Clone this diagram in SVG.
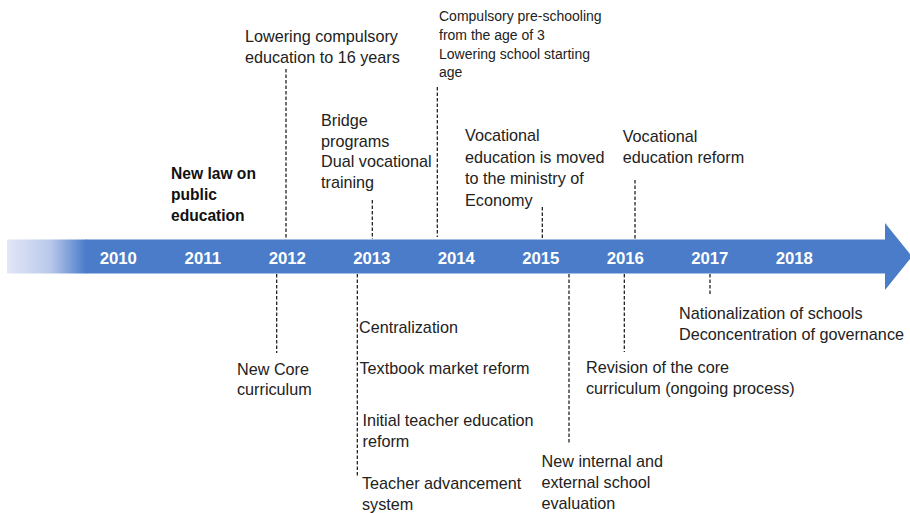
<svg xmlns="http://www.w3.org/2000/svg" width="910" height="513" viewBox="0 0 910 513">
<style>
  .t { font-family: "Liberation Sans", Arial, sans-serif; font-size: 16.2px; fill: #222; }
  .s { font-family: "Liberation Sans", Arial, sans-serif; font-size: 14px; fill: #222; }
  .b { font-family: "Liberation Sans", Arial, sans-serif; font-size: 15.6px; font-weight: bold; fill: #111; }
  .y { font-family: "Liberation Sans", Arial, sans-serif; font-size: 16.8px; font-weight: bold; fill: #fff; text-anchor: middle; }
  .d { stroke: #111; stroke-width: 1.2; stroke-dasharray: 3.5 2; fill: none; }
</style>
<defs>
  <linearGradient id="fade" x1="7" y1="0" x2="86" y2="0" gradientUnits="userSpaceOnUse">
    <stop offset="0" stop-color="#e2e7f6"/>
    <stop offset="0.55" stop-color="#b9c8ea"/>
    <stop offset="1" stop-color="#4a7cc9"/>
  </linearGradient>
</defs>
<rect width="910" height="513" fill="#fff"/>
<g id="timeline">
  <rect x="7" y="239.5" width="80" height="34" fill="url(#fade)"/>
  <polygon points="86,239.5 885,239.5 885,223 912,256.5 885,290 885,273.5 86,273.5" fill="#4a7cc9"/>
  <text class="y" x="118.3" y="263.5">2010</text>
  <text class="y" x="202.8" y="263.5">2011</text>
  <text class="y" x="287.3" y="263.5">2012</text>
  <text class="y" x="371.8" y="263.5">2013</text>
  <text class="y" x="456.3" y="263.5">2014</text>
  <text class="y" x="540.8" y="263.5">2015</text>
  <text class="y" x="625.3" y="263.5">2016</text>
  <text class="y" x="709.8" y="263.5">2017</text>
  <text class="y" x="794.3" y="263.5">2018</text>
</g>
<g id="connectors">
  <line class="d" x1="286" y1="69" x2="286" y2="239"/>
  <line class="d" x1="372.3" y1="200" x2="372.3" y2="239"/>
  <line class="d" x1="437.3" y1="87" x2="437.3" y2="237"/>
  <line class="d" x1="542.3" y1="207" x2="542.3" y2="239"/>
  <line class="d" x1="635" y1="180" x2="635" y2="239"/>
  <line class="d" x1="276.7" y1="274" x2="276.7" y2="353"/>
  <line class="d" x1="357.3" y1="274" x2="357.3" y2="477"/>
  <line class="d" x1="569" y1="274" x2="569" y2="443"/>
  <line class="d" x1="624.3" y1="274" x2="624.3" y2="352"/>
  <line class="d" x1="710" y1="274" x2="710" y2="296"/>
</g>
<g id="n2011-law">
  <text class="b" x="171" y="178.5">New law on</text>
  <text class="b" x="171" y="199.5">public</text>
  <text class="b" x="171" y="220.5">education</text>
</g>
<g id="n2012-compulsory">
  <text class="t" x="245" y="42">Lowering compulsory</text>
  <text class="t" x="245" y="63">education to 16 years</text>
</g>
<g id="n2013-bridge">
  <text class="t" x="321" y="126">Bridge</text>
  <text class="t" x="321" y="146.5">programs</text>
  <text class="t" x="321" y="167">Dual vocational</text>
  <text class="t" x="321" y="188">training</text>
</g>
<g id="n2014-preschool">
  <text class="s" x="439" y="21">Compulsory pre-schooling</text>
  <text class="s" x="439" y="40">from the age of 3</text>
  <text class="s" x="439" y="59">Lowering school starting</text>
  <text class="s" x="439" y="77">age</text>
</g>
<g id="n2015-vocational">
  <text class="t" x="465" y="141">Vocational</text>
  <text class="t" x="465" y="162.5">education is moved</text>
  <text class="t" x="465" y="184">to the ministry of</text>
  <text class="t" x="465" y="205.5">Economy</text>
</g>
<g id="n2016-vocational">
  <text class="t" x="622.7" y="141.5">Vocational</text>
  <text class="t" x="622.7" y="163">education reform</text>
</g>
<g id="n2012-core">
  <text class="t" x="237" y="374.5">New Core</text>
  <text class="t" x="237" y="395">curriculum</text>
</g>
<g id="n2013-reforms">
  <text class="t" x="359" y="333">Centralization</text>
  <text class="t" x="359.5" y="374">Textbook market reform</text>
  <text class="t" x="362.5" y="426">Initial teacher education</text>
  <text class="t" x="362.5" y="446.5">reform</text>
  <text class="t" x="362" y="489">Teacher advancement</text>
  <text class="t" x="362" y="510">system</text>
</g>
<g id="n2015-evaluation">
  <text class="t" x="541.5" y="466.5">New internal and</text>
  <text class="t" x="541.5" y="488">external school</text>
  <text class="t" x="541.5" y="509">evaluation</text>
</g>
<g id="n2016-revision">
  <text class="t" x="586" y="372.5">Revision of the core</text>
  <text class="t" x="586" y="393.5">curriculum (ongoing process)</text>
</g>
<g id="n2017-nationalization">
  <text class="t" x="679" y="319">Nationalization of schools</text>
  <text class="t" x="679" y="340">Deconcentration of governance</text>
</g>
</svg>
